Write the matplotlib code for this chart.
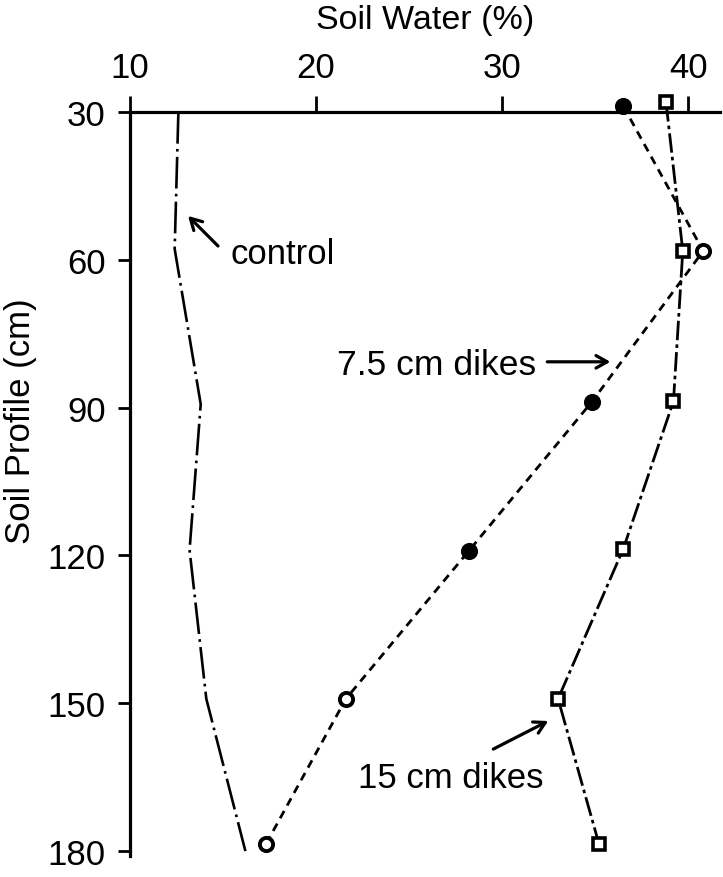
import matplotlib
matplotlib.use("Agg")
import matplotlib.pyplot as plt

plt.rcParams['font.family'] = ['Liberation Sans', 'DejaVu Sans']

# ---- data ----
x_ticks = [10, 20, 30, 40]
y_ticks = [30, 60, 90, 120, 150, 180]

control_water = [12.6, 12.4, 13.8, 13.2, 14.1, 16.2]
control_depth = [30, 57.8, 89.3, 118.9, 149.1, 180]

dike75_water = [36.5, 40.8, 34.8, 28.2, 21.6, 17.3]
dike75_depth = [28.8, 58.2, 88.9, 119.1, 149.1, 178.6]
dike75_filled = [True, False, True, True, False, False]

dike15_water = [38.8, 39.7, 39.2, 36.5, 33.0, 35.2]
dike15_depth = [28.0, 58.2, 88.7, 118.7, 149.1, 178.6]

W, H = 723, 878
fig = plt.figure(figsize=(W / 100, H / 100), dpi=100)
left, right, top, bottom = 130, 720, 113, 857
ax = fig.add_axes([left / W, 1 - bottom / H, (right - left) / W, (bottom - top) / H])

ax.set_xlim(10, 41.7)
ax.set_ylim(181, 30)

# control: dash-dot line, no markers
ax.plot(control_water, control_depth, color='black', lw=1.9,
        linestyle=(0, (12, 2.0, 1.0, 2.0)), clip_on=False)

# 7.5 cm dikes: short dashes with circles
ax.plot(dike75_water, dike75_depth, color='black', lw=2.0,
        linestyle=(0, (3.0, 2.2)), marker='o', ms=9.5, mfc='white',
        mec='black', mew=2.8, clip_on=False, zorder=3)
fx = [w for w, f in zip(dike75_water, dike75_filled) if f]
fy = [d for d, f in zip(dike75_depth, dike75_filled) if f]
ax.plot(fx, fy, linestyle='none', marker='o', ms=10, mfc='black',
        mec='black', clip_on=False, zorder=4)

# 15 cm dikes: long dash-dot with squares
ax.plot(dike15_water, dike15_depth, color='black', lw=2.0,
        linestyle=(0, (7, 1.5, 1.3, 1.5)), marker='s', ms=9, mfc='white',
        mec='black', mew=2.6, clip_on=False, zorder=3)

# axes styling
for s in ['right', 'bottom']:
    ax.spines[s].set_visible(False)
for s in ['left', 'top']:
    ax.spines[s].set_linewidth(2.3)
ax.xaxis.set_ticks_position('top')
ax.xaxis.set_label_position('top')
ax.set_xticks(x_ticks)
ax.set_xticklabels([str(v) for v in x_ticks])
ax.set_yticks(y_ticks)
ax.set_yticklabels([str(v) for v in y_ticks])
ax.tick_params(axis='x', direction='out', length=11.5, width=2.0, pad=9,
               labelsize=25)
ax.tick_params(axis='y', direction='out', length=8.6, width=2.0, pad=9,
               labelsize=25)

fig.text(425 / W, 1 - 21 / H, 'Soil Water (%)', ha='center', va='center',
         fontsize=24.5)
fig.text(21 / W, 1 - 421 / H, 'Soil Profile (cm)', ha='center', va='center',
         rotation=90, fontsize=25)

arrow = dict(arrowstyle='->,head_length=0.8,head_width=0.45', color='black',
             lw=2.3, shrinkA=0, shrinkB=0)

ax.text(15.38, 58.8, 'control', ha='left', va='center', fontsize=25)
ax.annotate('', xy=(13.12, 51.1), xytext=(14.73, 57.2), arrowprops=arrow)

ax.text(21.13, 81.3, '7.5 cm dikes', ha='left', va='center', fontsize=25.5)
ax.annotate('', xy=(35.81, 80.7), xytext=(32.42, 80.7), arrowprops=arrow)

ax.text(22.26, 165.0, '15 cm dikes', ha='left', va='center', fontsize=25)
ax.annotate('', xy=(32.47, 153.6), xytext=(29.52, 159.3), arrowprops=arrow)

fig.savefig('out.png', dpi=100)
